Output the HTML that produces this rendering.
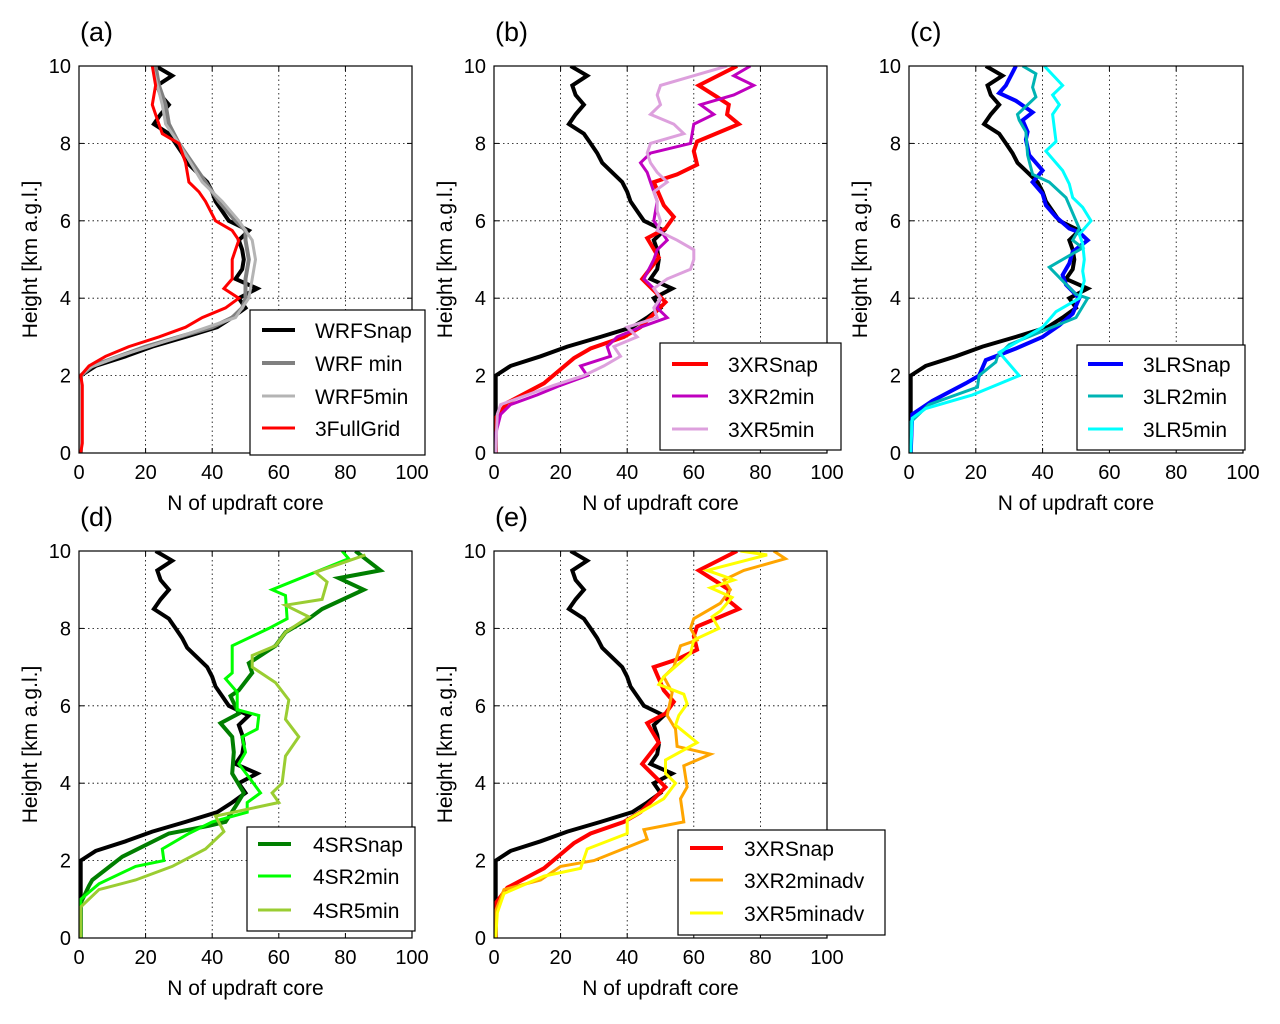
<!DOCTYPE html>
<html><head><meta charset="utf-8"><style>
body{margin:0;background:#fff;}
svg text{font-family:"Liberation Sans","DejaVu Sans",sans-serif;fill:#000;}
</style></head><body>
<svg id="fig" width="1280" height="1019" viewBox="0 0 1280 1019" xmlns="http://www.w3.org/2000/svg"></svg>
<script>
// ---- data (height km, N of updraft core) ----
const xTicks=[0,20,40,60,80,100];
const yTicks=[0,2,4,6,8,10];
const snapH=[10,9.75,9.5,9.25,9,8.75,8.5,8.25,8,7.75,7.5,7.25,7,6.75,6.5,6.25,6,5.75,5.5,5.25,5,4.75,4.5,4.25,4,3.75,3.5,3.25,3,2.75,2.5,2.25,2,0];
const snapN=[23,28,23.5,24.5,27,24.5,22.5,27,29,31,32.5,35.5,38.5,40,41,43,45,51,48,49,49.5,49,47,53.5,48,50,46,41.5,32,22,14,5,0.5,0.5];
const wrfMinH=[10,9.5,9,8.5,8,7.5,7,6.5,6,5.75,5.5,5,4.5,4,3.75,3.5,3.25,3,2.75,2.5,2.25,2,0];
const wrfMinN=[23,24,26,27,30,34,38,42,47,50,50,51,50,50,49,46,40,30,20,12,4,0.5,0.5];
const wrf5H=[10,9,8.5,8,7,6.5,6,5.5,5,4.5,4,3.5,3,2.5,2.2,2,0];
const wrf5N=[22,25,26,30,37,43,48,52,53,52,51,47,30,12,3,0.5,0.5];
const fullH=[10,9.5,9,8.5,8.25,8,7.5,7,6.75,6.5,6,5.75,5.5,5.25,5,4.75,4.5,4.25,4,3.75,3.5,3.25,3,2.75,2.5,2.25,2,1.75,0.5,0.25,0];
const fullN=[22,23,22,24,25,30,32,33,36,38,41,46,48,47,46,46,46,43.5,48,44,37,32,24,15,8,3,0.5,1,1,1,0.5];
const xrSnapH=[10,9.5,9.2,9,8.75,8.5,8.05,7.8,7.45,7.2,7,6.4,6.1,5.8,5.55,5.05,4.5,3.9,3.25,3,2.7,2.45,1.8,1.3,0.9,0];
const xrSnapN=[73,61.5,67,70.5,70,73.5,61,60,61,55,48,51,54,51.5,46,49.5,44.5,51.5,44,39,29,24,15,4,0.5,0.5];
const xr2H=[10,9.75,9.5,9.25,9,8.75,8.5,8,7.75,7.5,7.25,7,6.5,6,5.75,5.5,5.25,5,4.5,4.25,4,3.75,3.5,3.25,3,2.75,2.5,2.25,2,1.75,1.5,1.25,1,0.5,0];
const xr2N=[77,72,78,72,62,66,60,59,47,44,46,47,49,48,50,52,49,48,45,48,50,49,52,44,37,34,35,26,28,20,13,5,2,0.5,0.5];
const xr5H=[10,9.75,9.5,9.25,9,8.75,8.5,8.25,8,7.75,7.5,7.25,7,6.75,6.5,6.25,6,5.75,5.5,5.25,5,4.75,4.5,4.25,4,3.75,3.5,3.25,3,2.75,2.5,2.25,2,1.75,1.5,1.25,1,0];
const xr5N=[70,60,50,49,50,47,54,57,47,46,47,49,52,48,49,49,50,49,55,60,60,59,52,48,50,48,49,40,43,36,38,33,27,18,10,2,1,0.5];
const lrSnapH=[10,9.5,9.3,9.1,8.8,8.6,8.3,8.1,7.7,7.3,7,6.7,6.4,6.1,5.8,5.7,5.5,5.2,4.9,4.6,4.35,4,3.6,3.3,3,2.7,2.4,2,1.8,1.35,1,0];
const lrSnapN=[32,29,27,32,37,34,35.5,35,36,40,37,40,41,44,48,51,53.5,49,48,46,47,51,49,45,40,32,23,21,17,7,1,0.5];
const lr2H=[10,9.8,9.45,9.2,8.75,8.6,8.3,7.7,7.2,7,6.6,5.8,5.5,5.3,4.8,4.45,4.1,4,3.5,3.15,2.8,2.5,2.35,2,1.7,1.25,0.8,0];
const lr2N=[34,38,37,38,32.5,33,35,35.5,37,42,47,51,49,52,42,46,50,53.5,50,40,30,26.5,26,21,20.5,6,0.5,0.5];
const lr5H=[10,9.5,9.25,9,8.75,8.05,7.8,7.3,6.95,6.6,6.35,6,5.65,5.4,5,4.7,4.45,4,3.65,3.25,2.6,2,1.5,1.15,0.9,0];
const lr5N=[40.5,46,43,45,43,44,41,46,48,49,52,54.5,51,52,52.5,52,52.5,51,44,40,27,33,19,5,1,0.5];
const srSnapH=[10,9.5,9.3,9,8.5,8.25,7.9,7.55,7.1,6.85,6.4,6.25,5.8,5.55,5.2,4.8,4.25,3.75,3.4,3,2.9,2.7,2.1,1.5,1.35,0.9,0];
const srSnapN=[83,90.5,78,85.5,73,69,62,59,51,52,48,45.5,48,42.5,46,46.5,46,49.5,47,44,39,27,13,4,3,0.5,0.5];
const sr2H=[10,9.8,9,8.85,8.25,8,7.55,6.85,6.7,6.35,5.9,5.75,5.4,5.2,4.8,4.5,4.1,3.75,3.5,3.25,3,2.7,2.3,2,1.85,1.4,1,0];
const sr2N=[79,81,58,62,62.5,57,46,46,44,47.5,47.5,54,53.5,49,50,48,51.5,54.5,50.5,50.5,40,33,25,25.5,17,6,0.5,0.5];
const sr5H=[9.9,9.45,9.2,8.75,8.6,8.3,7.9,7.55,7.3,7,6.6,6.15,5.65,5.2,4.7,4,3.75,3.5,3.15,2.75,2.3,1.85,1.5,1.25,0.8,0];
const sr5N=[86,71,74.5,73,62,69,62,59,52,52,59,63,62,66,62,61,58,60,41,43.5,38,28,17,6,0.5,0.5];
const adv2H=[10,9.8,9.5,9.25,9,8.65,8.25,8,7.7,7.55,7,6.75,6.35,5.75,5.4,4.95,4.75,4.45,3.9,3.6,3,2.8,2.55,2,1.85,1.5,1.25,0.7,0];
const adv2N=[84,87.5,75,69,71,68,60,59,61,56,54,51,53.5,52,54.5,55,65,57,58,56,57,45,46,30,20,14,3,0.5,0.5];
const adv5H=[10,9.9,9.5,9.35,9.25,9.05,8.8,8.45,8.3,8,7.7,7.35,6.75,6.55,6.3,6.05,5.75,5.5,5.05,4.6,4.25,4,3.6,3.05,2.7,2.3,1.8,1.6,1.15,0.65,0];
const adv5N=[74,82,64,69,72,65,71.5,68,65.5,67.5,60,59,51,49.5,57,58,55.5,54.5,61,51.5,51.5,54.5,51,40,40,28,26,15,3,1,0.5];

const svg=document.getElementById('fig');
const NS='http://www.w3.org/2000/svg';
function mk(tag,attrs,parent){const e=document.createElementNS(NS,tag);for(const k in attrs)e.setAttribute(k,attrs[k]);(parent||svg).appendChild(e);return e;}

const panels=[
 {id:'a',x0:79,x1:412,y0:66,y1:453,leg:[250,310,175,145,262,295,315,[330,363,396,428]],
  series:[['WRFSnap','#000',4,snapH,snapN],['WRF min','#808080',4,wrfMinH,wrfMinN],['WRF5min','#b4b4b4',3,wrf5H,wrf5N],['3FullGrid','#ff0000',3,fullH,fullN]]},
 {id:'b',x0:494,x1:827,y0:66,y1:453,leg:[660,343,181,107,672,708,728,[364,396,429]],black:true,
  series:[['3XRSnap','#ff0000',4,xrSnapH,xrSnapN],['3XR2min','#bf00bf',3,xr2H,xr2N],['3XR5min','#dda0dd',3,xr5H,xr5N]]},
 {id:'c',x0:909,x1:1243,y0:66,y1:453,leg:[1077,345,168,105,1088,1123,1143,[364,396,429]],black:true,
  series:[['3LRSnap','#0000ff',4,lrSnapH,lrSnapN],['3LR2min','#00b4b4',3,lr2H,lr2N],['3LR5min','#00ffff',3,lr5H,lr5N]]},
 {id:'d',x0:79,x1:412,y0:551,y1:938,leg:[247,827,168,104,258,291,313,[844,876,910]],black:true,
  series:[['4SRSnap','#007f00',4,srSnapH,srSnapN],['4SR2min','#00ff00',3,sr2H,sr2N],['4SR5min','#9acd32',3,sr5H,sr5N]]},
 {id:'e',x0:494,x1:827,y0:551,y1:938,leg:[678,830,207,105,690,723,744,[848,880,913]],black:true,
  series:[['3XRSnap','#ff0000',4,xrSnapH,xrSnapN],['3XR2minadv','#ffa500',3,adv2H,adv2N],['3XR5minadv','#ffff00',3,adv5H,adv5N]]}
];

panels.forEach(p=>{
 const g=mk('g',{});
 
 
 const sx=v=>p.x0+(p.x1-p.x0)*v/100;
 const sy=h=>p.y1-(p.y1-p.y0)*h/10;
 xTicks.forEach(t=>{if(t>0&&t<100){const l=mk('line',{x1:sx(t),x2:sx(t),y1:p.y0,y2:p.y1,stroke:'#000','stroke-width':0.8,'stroke-dasharray':'1.5,3'},g);}
  const tl=mk('text',{x:sx(t),y:p.y1+26,'font-size':20,'text-anchor':'middle'},g);tl.textContent=t;
  
  mk('line',{x1:sx(t),x2:sx(t),y1:p.y1,y2:p.y1-5,stroke:'#000'},g);mk('line',{x1:sx(t),x2:sx(t),y1:p.y0,y2:p.y0+5,stroke:'#000'},g);});
 yTicks.forEach(t=>{if(t>0&&t<10){const l=mk('line',{x1:p.x0,x2:p.x1,y1:sy(t),y2:sy(t),stroke:'#000','stroke-width':0.8,'stroke-dasharray':'1.5,3'},g);}
  const tl=mk('text',{x:p.x0-8,y:sy(t)+7,'font-size':20,'text-anchor':'end'},g);tl.textContent=t;
  
  mk('line',{x1:p.x0,x2:p.x0+5,y1:sy(t),y2:sy(t),stroke:'#000'},g);mk('line',{x1:p.x1,x2:p.x1-5,y1:sy(t),y2:sy(t),stroke:'#000'},g);});
 const all=(p.black?[['WRFSnap','#000',4,snapH,snapN]]:[]).concat(p.series);
 const clip=mk('clipPath',{id:'clip'+p.id},g);mk('rect',{x:p.x0,y:p.y0,width:p.x1-p.x0,height:p.y1-p.y0},clip);
 all.forEach(s=>{
  const pts=s[3].map((h,i)=>sx(s[4][i]).toFixed(1)+','+sy(h).toFixed(1)).join(' ');
  const pl=mk('polyline',{points:pts,fill:'none',stroke:s[1],'stroke-width':s[2],'stroke-linejoin':'miter','clip-path':'url(#clip'+p.id+')'},g);
  
  
 });
 const fr=mk('rect',{x:p.x0,y:p.y0,width:p.x1-p.x0,height:p.y1-p.y0,fill:'none',stroke:'#000','stroke-width':1.2},g);
 
 const xl=mk('text',{x:(p.x0+p.x1)/2,y:p.y1+57,'font-size':21,'text-anchor':'middle'},g);xl.textContent='N of updraft core';
 
 const yc=(p.y0+p.y1)/2, yx=p.x0-42;
 const yl=mk('text',{x:yx,y:yc,'font-size':21,'text-anchor':'middle',transform:'rotate(-90 '+yx+' '+yc+')'},g);yl.textContent='Height  [km a.g.l.]';
 
 const pl=mk('text',{x:p.x0+1,y:p.y0-25,'font-size':27},g);pl.textContent='('+p.id+')';
 
 const L=p.leg;
 const lg=mk('g',{},g);
 
 mk('rect',{x:L[0],y:L[1],width:L[2],height:L[3],fill:'#fff',stroke:'#000','stroke-width':1.2},lg);
 p.series.forEach((s,i)=>{
  const y=L[7][i];
  mk('line',{x1:L[4],x2:L[5],y1:y,y2:y,stroke:s[1],'stroke-width':s[2]},lg);
  const t=mk('text',{x:L[6],y:y+8,'font-size':21},lg);t.textContent=s[0];
  
 });
});
</script>
</body></html>
